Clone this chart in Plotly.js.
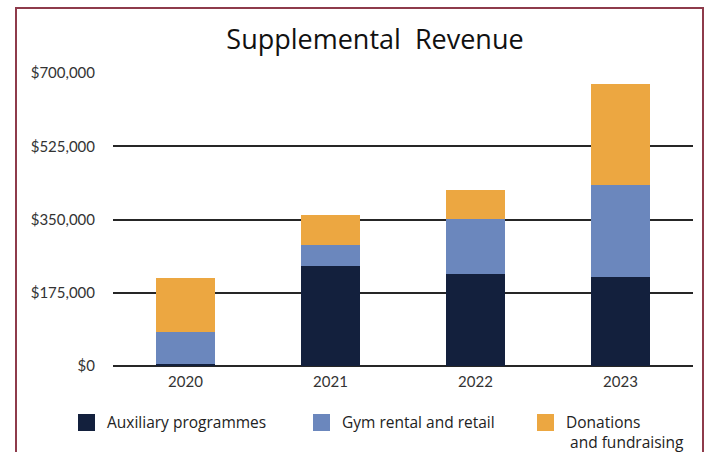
<!DOCTYPE html>
<html>
<head>
<meta charset="utf-8">
<script src="https://cdn.plot.ly/plotly-3.0.1.min.js"></script>
<style>html,body{margin:0;padding:0;background:#fff;}</style>
</head>
<body>
<div id="chart" style="width:709px;height:452px;"></div>
<script>
const years = ['2020', '2021', '2022', '2023'];
const seriesNames = ['Auxiliary programmes', 'Gym rental and retail', 'Donations<br> and fundraising'];
const auxiliary = [5000, 239000, 220000, 213000];
const gymRental = [76000, 50000, 131000, 219000];
const donations = [129000, 72000, 69000, 242000];
const tickValues = [0, 175000, 350000, 525000, 700000];
const tickLabels = ['$0', '$175,000', '$350,000', '$525,000', '$700,000'];
const colors = ['#13203D', '#6B87BD', '#ECA741'];

const W = 709, H = 452;
const M = {l: 113, r: 16, t: 73, b: 86};
const pw = W - M.l - M.r, ph = H - M.t - M.b;
const px = x => (x - M.l) / pw;
const py = y => (H - M.b - y) / ph;

const values = [auxiliary, gymRental, donations];
const traces = values.map((v, i) => ({
  type: 'bar', x: years, y: v, name: seriesNames[i],
  marker: {color: colors[i], line: {width: 0}}, hoverinfo: 'skip'
}));

const legendX = [78, 313, 537];
const shapes = [{
  type: 'rect', xref: 'paper', yref: 'paper',
  x0: px(16), x1: px(703), y0: py(470), y1: py(8),
  line: {color: '#8E3B4B', width: 2}, fillcolor: 'rgba(0,0,0,0)', layer: 'above'
}];
const annotations = [];
seriesNames.forEach((n, i) => {
  shapes.push({type: 'rect', xref: 'paper', yref: 'paper',
    x0: px(legendX[i]), x1: px(legendX[i] + 17), y0: py(431), y1: py(414),
    line: {width: 0}, fillcolor: colors[i]});
  annotations.push({xref: 'paper', yref: 'paper', x: px(legendX[i] + 27), y: py(409),
    xanchor: 'left', yanchor: 'top', align: 'left', showarrow: false, text: n,
    font: {family: '"Open Sans", sans-serif', size: 15.5, color: '#222'}});
});

const layout = {
  width: W, height: H, margin: M,
  paper_bgcolor: '#fff', plot_bgcolor: '#fff',
  showlegend: false, barmode: 'stack', bargap: 0.593,
  title: {text: 'Supplemental&nbsp;&nbsp;Revenue', x: 375 / W, xanchor: 'center',
    y: 1 - 40 / H, yanchor: 'middle', xref: 'container',
    font: {family: '"Open Sans", sans-serif', size: 27, color: '#111'}},
  xaxis: {type: 'category', showgrid: false, zeroline: false, showline: false,
    ticks: '', ticklabelstandoff: 5,
    tickfont: {family: 'Lato, sans-serif', size: 15, color: '#333'}},
  yaxis: {range: [0, 700000], tickvals: tickValues, ticktext: tickLabels,
    showgrid: true, gridcolor: '#262626', gridwidth: 2, zeroline: true,
    zerolinecolor: '#262626', zerolinewidth: 2, showline: false, ticks: '',
    ticklabelstandoff: 17,
    tickfont: {family: 'Lato, sans-serif', size: 15, color: '#333'}},
  shapes: shapes, annotations: annotations
};
Plotly.newPlot('chart', traces, layout, {staticPlot: true, displayModeBar: false});
</script>
</body>
</html>
